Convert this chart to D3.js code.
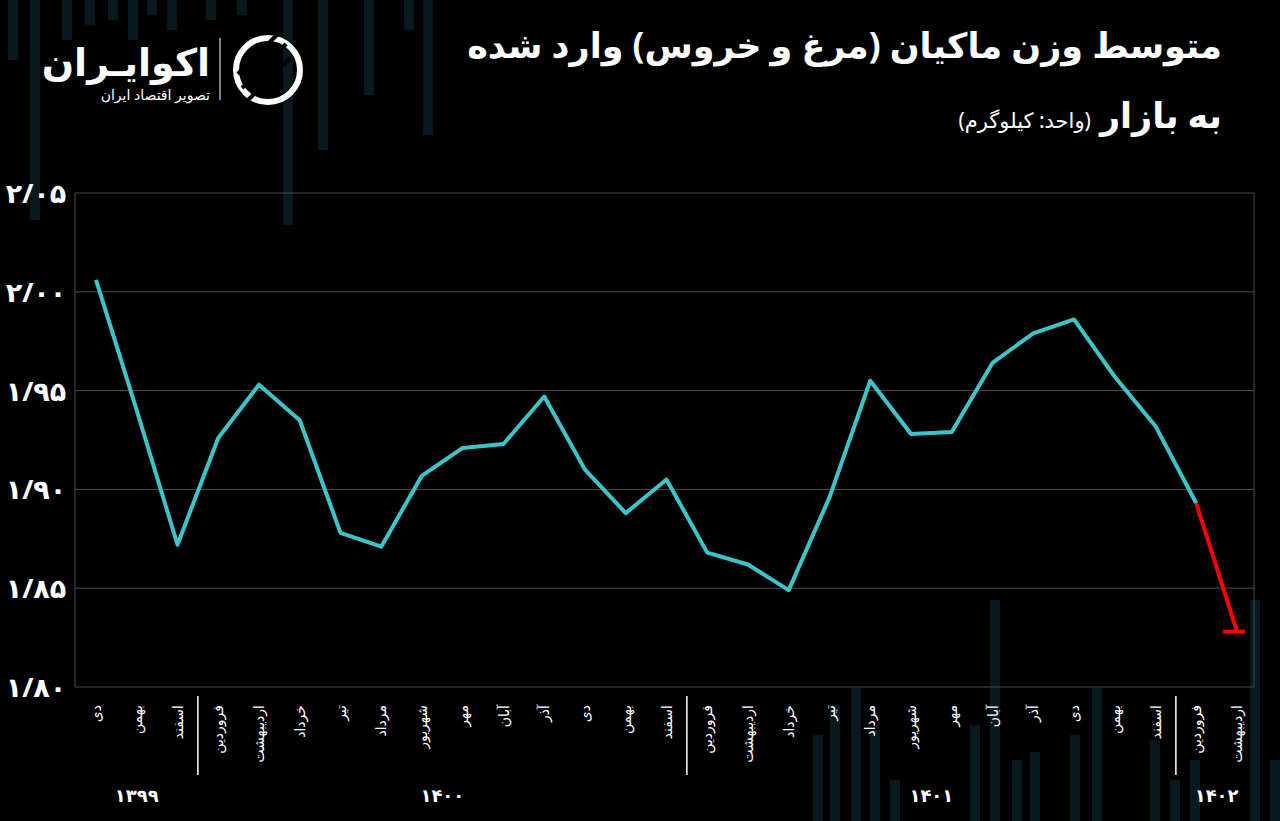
<!DOCTYPE html>
<html><head><meta charset="utf-8">
<script src="https://cdn.jsdelivr.net/npm/d3@7/dist/d3.min.js"></script>
<style>body{margin:0;background:#000}svg{display:block}</style>
</head><body><svg id="c" width="1280" height="821"></svg>
<script>
const months = ["دی","بهمن","اسفند","فروردین","اردیبهشت","خرداد","تیر","مرداد","شهریور","مهر","آبان","آذر","دی","بهمن","اسفند","فروردین","اردیبهشت","خرداد","تیر","مرداد","شهریور","مهر","آبان","آذر","دی","بهمن","اسفند","فروردین","اردیبهشت"];
const values = [2.006,1.940,1.872,1.926,1.953,1.935,1.878,1.871,1.907,1.921,1.923,1.947,1.910,1.888,1.905,1.868,1.862,1.849,1.896,1.955,1.928,1.929,1.964,1.979,1.986,1.957,1.932,1.893,1.828];
const years = [{label:"۱۳۹۹",from:0,to:2},{label:"۱۴۰۰",from:3,to:14},{label:"۱۴۰۱",from:15,to:26},{label:"۱۴۰۲",from:27,to:28}];
const yTicks = [1.80,1.85,1.90,1.95,2.00,2.05];
const redFrom = 27;

const svg = d3.select("#c");
const fa = s => s.replace(/\d/g, d => "۰۱۲۳۴۵۶۷۸۹"[d]);
const L=75,R=1254,T=193,B=687;
const x = d3.scaleLinear().domain([0,months.length-1]).range([96,1237]);
const y = d3.scaleLinear().domain([1.80,2.05]).range([B,T]);

const deco=[[8,0,60],[30,0,220],[62,0,40],[85,0,25],[108,0,20],[128,0,40],[147,0,15],[167,0,30],[206,0,20],[237,0,15],[283,0,225],[318,0,150],[364,0,95],[404,0,30],[423,0,135],[813,735,821],[830,705,821],[851,688,821],[870,730,821],[890,780,821],[970,725,821],[990,600,821],[1012,760,821],[1030,752,821],[1070,735,821],[1092,688,821],[1150,740,821],[1170,780,821],[1190,760,821],[1250,600,821],[1270,760,821]];
svg.append("g").selectAll("rect").data(deco).join("rect")
 .attr("x",d=>d[0]).attr("y",d=>d[1]).attr("width",10).attr("height",d=>d[2]-d[1])
 .attr("fill","#0d2a33").attr("opacity",0.6);

svg.append("g").selectAll("line").data(yTicks).join("line")
 .attr("x1",L).attr("x2",R).attr("y1",d=>y(d)).attr("y2",d=>y(d))
 .attr("stroke","#4a4a4a").attr("stroke-width",1);
svg.append("line").attr("x1",L).attr("x2",L).attr("y1",T).attr("y2",B).attr("stroke","#4a4a4a");
svg.append("line").attr("x1",R).attr("x2",R).attr("y1",T).attr("y2",B).attr("stroke","#4a4a4a");

svg.append("g").selectAll("text").data(yTicks).join("text")
 .attr("x",36).attr("y",d=>y(d)+10).attr("text-anchor","middle")
 .attr("fill","#fff").attr("font-family","Noto Sans, DejaVu Sans").attr("font-weight","bold").attr("font-size",27)
 .text(d=>fa(d.toFixed(2).replace(".","/")));

svg.append("g").selectAll("text").data(months).join("text")
 .attr("transform",(d,i)=>`translate(${x(i)+5},705) rotate(-90)`)
 .attr("text-anchor","end").attr("fill","#fff").attr("font-family","Noto Sans, DejaVu Sans").attr("font-size",14)
 .text(d=>d);

years.slice(1).forEach(yr=>{
 const sx=(x(yr.from)+x(yr.from-1))/2;
 svg.append("line").attr("x1",sx).attr("x2",sx).attr("y1",696).attr("y2",775).attr("stroke","#fff").attr("stroke-width",1.5);
});
svg.append("g").selectAll("text").data(years).join("text")
 .attr("x",d=>(x(d.from)+x(d.to))/2).attr("y",802).attr("text-anchor","middle")
 .attr("fill","#fff").attr("font-family","Noto Sans, DejaVu Sans").attr("font-weight","bold").attr("font-size",18)
 .text(d=>d.label);

const line=d3.line().x(d=>x(d.i)).y(d=>y(d.v));
const pts=values.map((v,i)=>({v,i}));
svg.append("path").datum(pts.slice(0,redFrom+1)).attr("d",line).attr("fill","none").attr("stroke","#3cc5c9").attr("stroke-width",4).attr("stroke-linejoin","round");
svg.append("path").datum(pts.slice(redFrom)).attr("d",line).attr("fill","none").attr("stroke","#ff0000").attr("stroke-width",4);
const last=pts[pts.length-1];
svg.append("line").attr("x1",x(last.i)-14).attr("x2",x(last.i)+8).attr("y1",y(last.v)).attr("y2",y(last.v)).attr("stroke","#ff0000").attr("stroke-width",4);

const tf="Noto Sans, DejaVu Sans";
svg.append("text").attr("x",1222).attr("y",58).attr("text-anchor","start").attr("direction","rtl").attr("fill","#fff").attr("font-family",tf).attr("font-weight","bold").attr("font-size",35).text("متوسط وزن ماکیان (مرغ و خروس) وارد شده");
const t2=svg.append("text").attr("x",1222).attr("y",128).attr("text-anchor","start").attr("direction","rtl").attr("fill","#fff").attr("font-family",tf).attr("font-weight","bold");
t2.append("tspan").attr("font-size",35).text("به بازار ");
t2.append("tspan").attr("font-size",21).attr("font-weight","normal").text("(واحد: کیلوگرم)");

svg.append("text").attr("x",210).attr("y",76).attr("text-anchor","end").attr("fill","#fff").attr("font-family",tf).attr("font-weight","bold").attr("font-size",38).text("اکوایـران");
svg.append("text").attr("x",210).attr("y",100).attr("text-anchor","end").attr("fill","#fff").attr("font-family",tf).attr("font-size",14).text("تصویر اقتصاد ایران");
svg.append("line").attr("x1",220).attr("x2",220).attr("y1",38).attr("y2",100).attr("stroke","#fff");
const lg=svg.append("g").attr("transform","translate(268,70)");
lg.append("circle").attr("r",32).attr("fill","none").attr("stroke","#fff").attr("stroke-width",6);
[-14,0,14].forEach(o=>lg.append("line").attr("x1",-26).attr("y1",18).attr("x2",18).attr("y2",-26).attr("stroke","#000").attr("stroke-width",4).attr("transform",`translate(${o*0.3},${o})`));
</script></body></html>
